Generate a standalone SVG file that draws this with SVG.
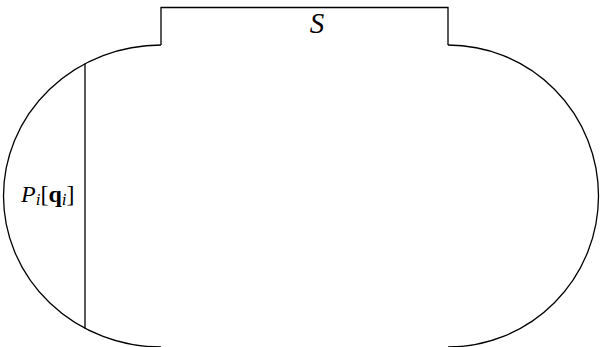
<svg xmlns="http://www.w3.org/2000/svg" width="600" height="347" viewBox="0 0 600 347">
<style>
.ln{fill:none;stroke:#000;stroke-width:1.3}
.t{font-family:"Liberation Serif","Times New Roman",serif;fill:#000}
</style>
<rect width="600" height="347" fill="#fff"/>
<g id="connectors">
<path class="ln" d="M161,45 A157.5,151 0 0 0 161,347"/>
<path class="ln" d="M448,45 A150.5,151 0 0 1 448,347"/>
</g>
<g id="S">
<path class="ln" d="M161,45 L161,7.5 L448,7.5 L448,45"/>
<text class="t" x="317" y="33" font-size="29" font-style="italic" text-anchor="middle">S</text>
</g>
<g id="Pi">
<line class="ln" x1="85" y1="63.5" x2="85" y2="328.5"/>
<text class="t" x="21" y="202" font-size="24"><tspan font-style="italic">P</tspan><tspan font-style="italic" font-size="17" dy="3">i</tspan><tspan dy="-3">[</tspan><tspan font-weight="bold">q</tspan><tspan font-style="italic" font-size="17" dy="3">i</tspan><tspan dy="-3">]</tspan></text>
</g>
</svg>
